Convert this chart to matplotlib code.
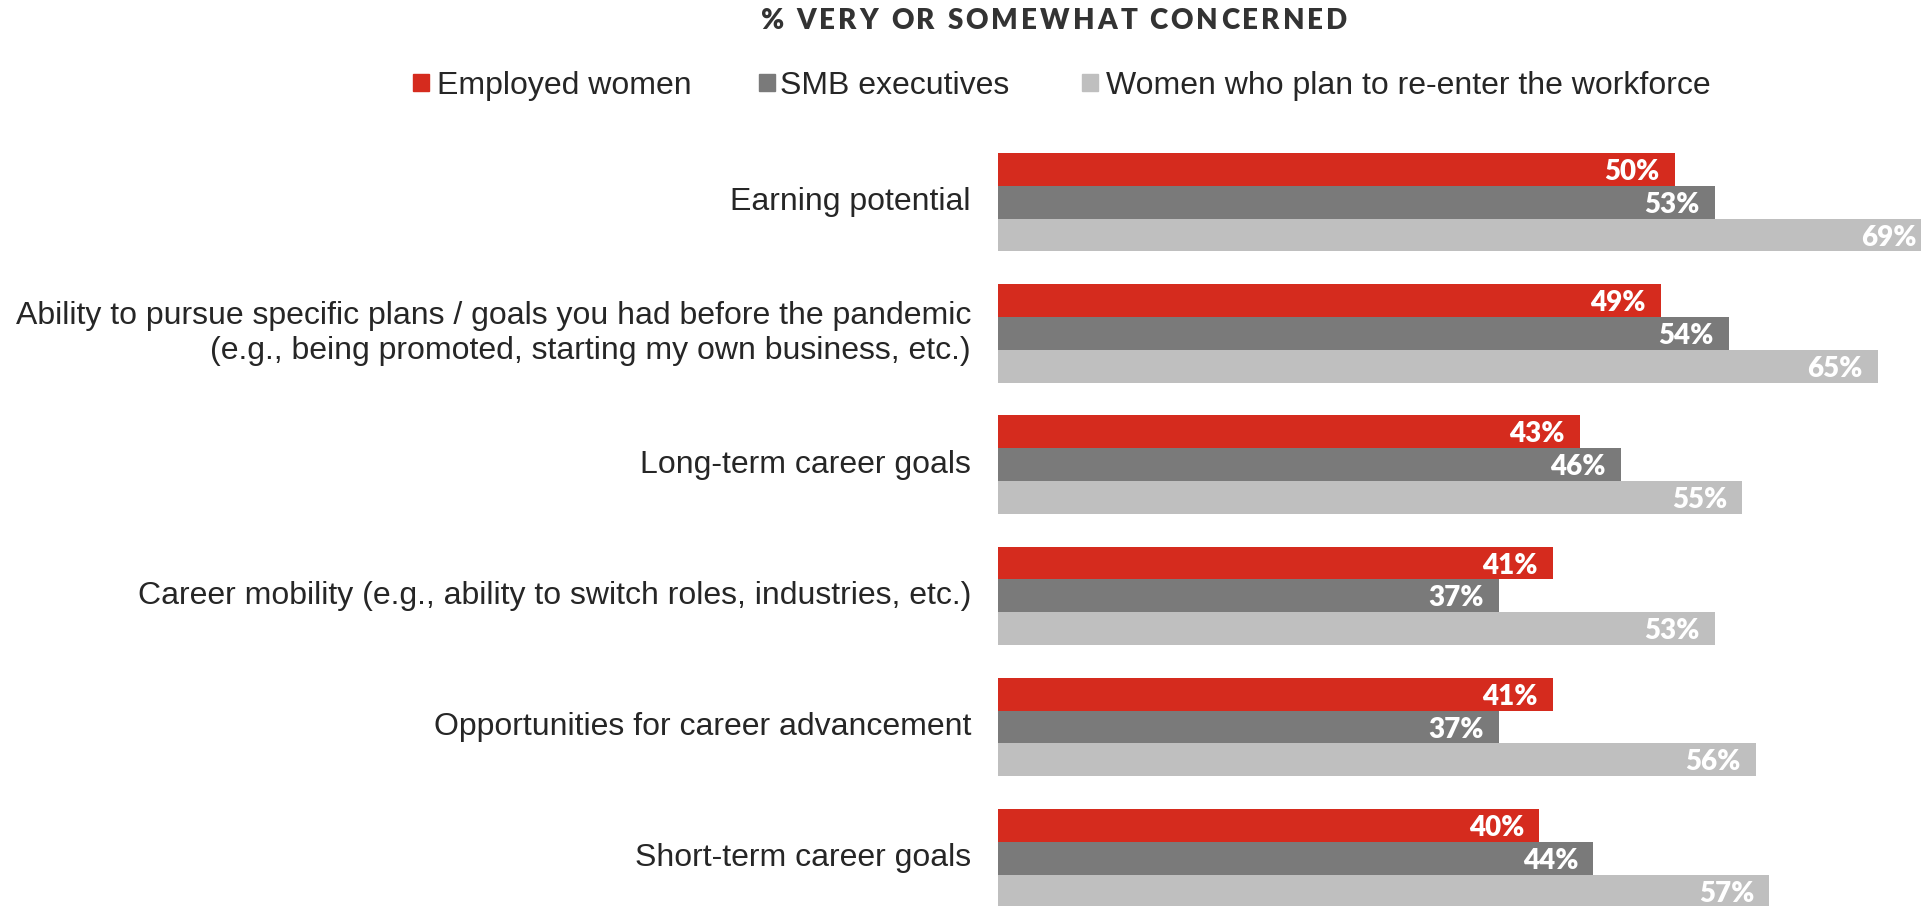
import numpy as np
import matplotlib.pyplot as plt
from matplotlib.patches import Rectangle
from matplotlib.font_manager import FontProperties

#######################################
# DATA
#######################################
categories = [
    "Earning potential",
    "Ability to pursue specific plans / goals you had before the pandemic\n(e.g., being promoted, starting my own business, etc.)",
    "Long-term career goals",
    "Career mobility (e.g., ability to switch roles, industries, etc.)",
    "Opportunities for career advancement",
    "Short-term career goals",
]
employed_women = [50, 49, 43, 41, 41, 40]
smb_executives = [53, 54, 46, 37, 37, 44]
women_reenter = [69, 65, 55, 53, 56, 57]

series_names = ["Employed women", "SMB executives", "Women who plan to re-enter the workforce"]
title = "% VERY OR SOMEWHAT CONCERNED"
colors = ["#D52B1E", "#7A7A7A", "#BFBFBF"]
text_col = "#262626"

#######################################
# FIGURE
#######################################
W, H = 1921, 906
fig = plt.figure(figsize=(W / 100, H / 100), dpi=100)

# axes: bars start at x=998 px, run to right edge; full height
ax = fig.add_axes([998 / W, 0, 1 - 998 / W, 1])
ax.set_xlim(0, 68.2)
unit = 32.8          # px per bar height
first_center = 169.4  # px from top of first red bar center
ax.set_ylim((H - first_center) / unit, -first_center / unit)
ax.axis("off")

n = len(categories)
base = np.arange(n) * 4
all_series = [employed_women, smb_executives, women_reenter]
for k, vals in enumerate(all_series):
    ypos = base + k
    ax.barh(ypos, vals, height=1.0, color=colors[k])
    for y, v in zip(ypos, vals):
        ax.annotate(f"{v}%", xy=(v, y), xytext=(-11, 0), textcoords="offset points",
                    ha="right", va="center_baseline", color="white",
                    fontsize=20, fontweight="heavy", family="Lato", annotation_clip=False)

# category labels, centered on the middle bar
for y, lab in zip(base + 1, categories):
    ax.annotate(lab, xy=(0, y), xytext=(-27 * 72 / 100, 0), textcoords="offset points",
                ha="right", va="center", fontsize=23, color=text_col,
                family="Liberation Sans", linespacing=1.2, annotation_clip=False)

# title with letter spacing: place chars one by one
fp = FontProperties(family="Lato", weight="heavy", size=20)
renderer = fig.canvas.get_renderer()
widths = [renderer.get_text_width_height_descent(c, fp, ismath=False)[0] for c in title]
target = 587.0
track = (target - sum(widths)) / (len(title) - 1)
x = 1054 - target / 2
for c, w in zip(title, widths):
    fig.text(x / W, 1 - 21 / H, c, ha="left", va="center", fontproperties=fp, color="#333333")
    x += w + track

# legend (manual)
sq_x = [413, 759, 1082]
tx_x = [437, 780, 1106]
for k in range(3):
    fig.patches.append(Rectangle((sq_x[k] / W, 1 - 91 / H), 16 / W, 17 / H,
                                 transform=fig.transFigure, color=colors[k]))
    fig.text(tx_x[k] / W, 1 - 86 / H, series_names[k], ha="left", va="center",
             fontsize=23, color=text_col, family="Liberation Sans")

plt.savefig("out.png", dpi=100)
